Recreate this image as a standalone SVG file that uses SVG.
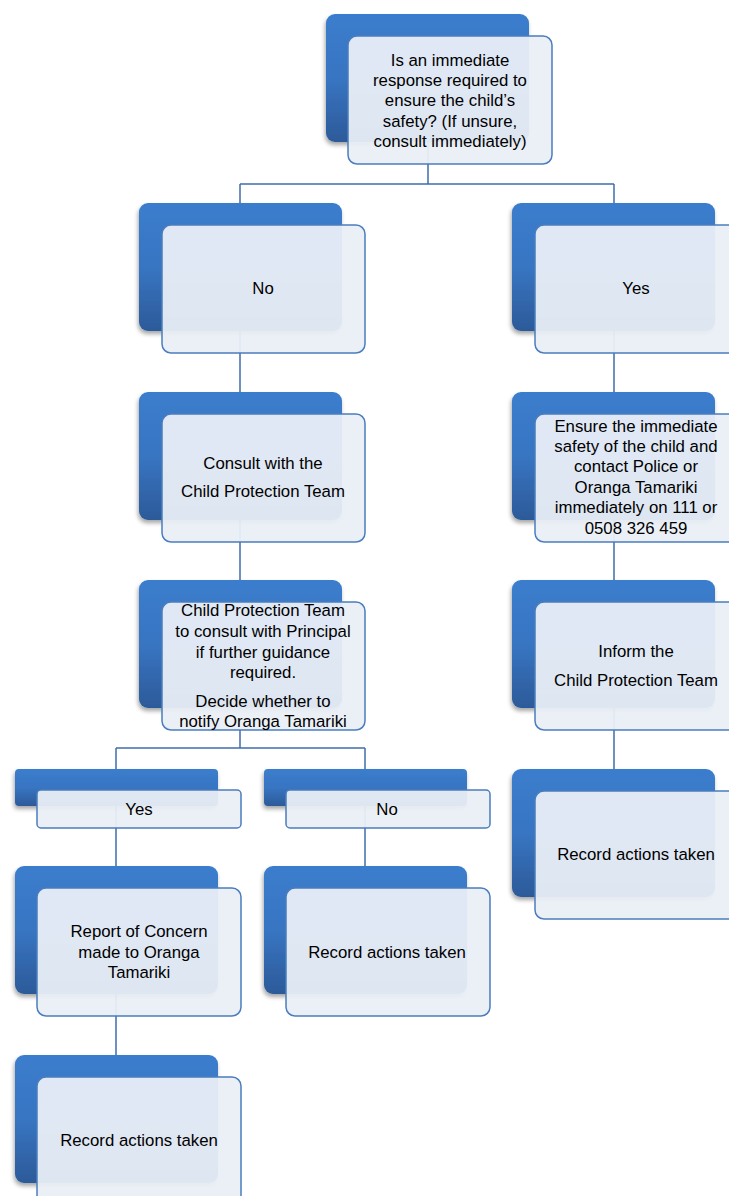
<svg xmlns="http://www.w3.org/2000/svg" width="729" height="1196" viewBox="0 0 729 1196">
<defs>
<linearGradient id="bg" x1="0" y1="0" x2="0" y2="1">
<stop offset="0" stop-color="#3b7dcd"/>
<stop offset="0.5" stop-color="#3875c2"/>
<stop offset="1" stop-color="#2c5a99"/>
</linearGradient>
<filter id="sh" x="-10%" y="-10%" width="120%" height="130%">
<feDropShadow dx="-1" dy="3" stdDeviation="2" flood-color="#000" flood-opacity="0.35"/>
</filter>
</defs>
<style>
.back{fill:url(#bg);filter:url(#sh)}
.front{fill:#eaeff7;fill-opacity:0.94;stroke:#4a7dbd;stroke-width:1.5}
.con{fill:none;stroke:#3f6eaa;stroke-width:1.5}
text{font-family:"Liberation Sans",Arial,sans-serif;font-size:16.8px;fill:#000;text-anchor:middle}
</style>
<rect width="729" height="1196" fill="#fff"/>
<g id="connectors">
<path class="con" d="M428 142V184M240 184H614M240 184V602M614 184V791M240 730V748M116 748H365M116 748V1077M365 748V888"/>
</g>
<g id="n-top">
<rect class="back" x="326" y="14" width="203" height="128" rx="9"/>
<rect class="front" x="348" y="36" width="204" height="128" rx="9"/>
<text x="450" y="66">Is an immediate</text>
<text x="450" y="86">response required to</text>
<text x="450" y="106">ensure the child’s</text>
<text x="450" y="127">safety? (If unsure,</text>
<text x="450" y="147">consult immediately)</text>
</g>
<g id="n-no">
<rect class="back" x="139" y="203" width="203" height="128" rx="9"/>
<rect class="front" x="162" y="225" width="203" height="128" rx="9"/>
<text x="263" y="294">No</text>
</g>
<g id="n-yes">
<rect class="back" x="512" y="203" width="203" height="128" rx="9"/>
<rect class="front" x="535" y="225" width="203" height="128" rx="9"/>
<text x="636" y="294">Yes</text>
</g>
<g id="n-consult">
<rect class="back" x="139" y="392" width="203" height="128" rx="9"/>
<rect class="front" x="162" y="414" width="203" height="128" rx="9"/>
<text x="263" y="469">Consult with the</text>
<text x="263" y="497">Child Protection Team</text>
</g>
<g id="n-ensure">
<rect class="back" x="512" y="392" width="203" height="128" rx="9"/>
<rect class="front" x="535" y="414" width="203" height="128" rx="9"/>
<text x="636" y="432">Ensure the immediate</text>
<text x="636" y="452">safety of the child and</text>
<text x="636" y="472">contact Police or</text>
<text x="636" y="493">Oranga Tamariki</text>
<text x="636" y="513">immediately on 111 or</text>
<text x="636" y="534">0508 326 459</text>
</g>
<g id="n-cpt">
<rect class="back" x="139" y="580" width="203" height="128" rx="9"/>
<rect class="front" x="162" y="602" width="203" height="128" rx="9"/>
<text x="263" y="616">Child Protection Team</text>
<text x="263" y="637">to consult with Principal</text>
<text x="263" y="658">if further guidance</text>
<text x="263" y="678">required.</text>
<text x="263" y="707">Decide whether to</text>
<text x="263" y="727">notify Oranga Tamariki</text>
</g>
<g id="n-inform">
<rect class="back" x="512" y="580" width="203" height="128" rx="9"/>
<rect class="front" x="535" y="602" width="203" height="128" rx="9"/>
<text x="636" y="657">Inform the</text>
<text x="636" y="686">Child Protection Team</text>
</g>
<g id="n-yes2">
<rect class="back" x="15" y="769" width="203" height="37" rx="4"/>
<rect class="front" x="37" y="790" width="204" height="38" rx="4"/>
<text x="139" y="815">Yes</text>
</g>
<g id="n-no2">
<rect class="back" x="264" y="769" width="203" height="37" rx="4"/>
<rect class="front" x="286" y="790" width="204" height="38" rx="4"/>
<text x="387" y="815">No</text>
</g>
<g id="n-record-right">
<rect class="back" x="512" y="769" width="203" height="128" rx="9"/>
<rect class="front" x="535" y="791" width="203" height="128" rx="9"/>
<text x="636" y="860">Record actions taken</text>
</g>
<g id="n-report">
<rect class="back" x="15" y="866" width="203" height="128" rx="9"/>
<rect class="front" x="37" y="888" width="204" height="128" rx="9"/>
<text x="139" y="937">Report of Concern</text>
<text x="139" y="958">made to Oranga</text>
<text x="139" y="978">Tamariki</text>
</g>
<g id="n-record-mid">
<rect class="back" x="264" y="866" width="203" height="128" rx="9"/>
<rect class="front" x="286" y="888" width="204" height="128" rx="9"/>
<text x="387" y="958">Record actions taken</text>
</g>
<g id="n-record-bottom">
<rect class="back" x="15" y="1055" width="203" height="128" rx="9"/>
<rect class="front" x="37" y="1077" width="204" height="128" rx="9"/>
<text x="139" y="1146">Record actions taken</text>
</g>
</svg>
